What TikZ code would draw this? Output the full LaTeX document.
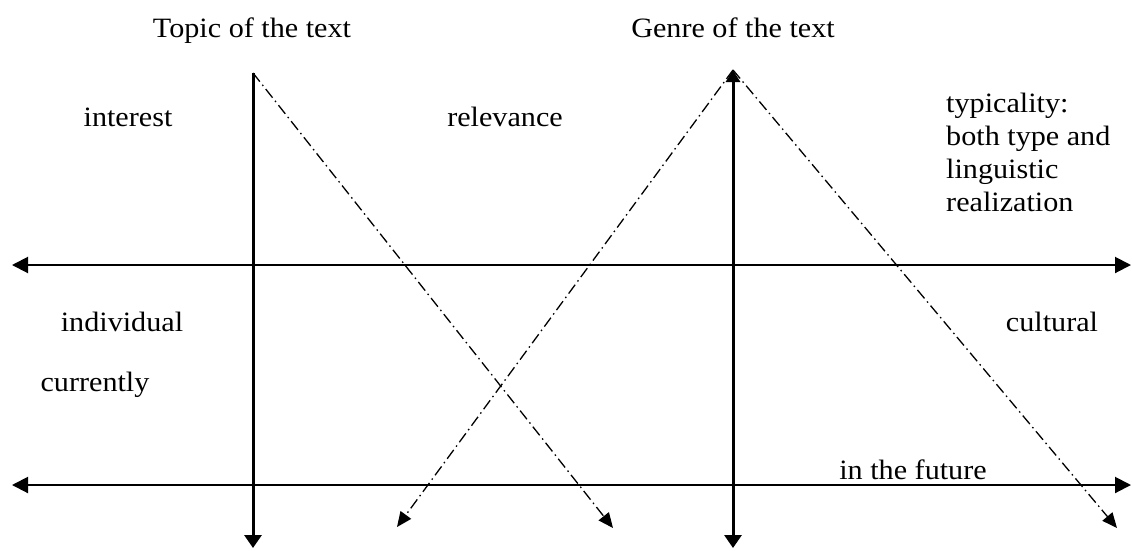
\documentclass[tikz,border=0pt]{standalone}
\usepackage{fontspec}
\setmainfont{Liberation Serif}[FakeStretch=1.077]
\usetikzlibrary{arrows.meta}
\begin{document}
\begin{tikzpicture}[x=1pt,y=-1pt,
  lbl/.style={font=\fontsize{28}{33}\selectfont, inner sep=0pt},
  axisline/.style={line width=2pt, {Triangle[length=16pt,width=16pt]}-{Triangle[length=16pt,width=16pt]}},
  vertline/.style={line width=3pt, -{Triangle[length=13pt,width=17pt]}},
  ddline/.style={line width=1.3pt, dash pattern=on 11pt off 4pt on 1.5pt off 4pt, -{Triangle[length=15pt,width=13pt]}}]
\useasboundingbox (0,0) rectangle (1132,550);
% coordinates
\coordinate (t1top) at (253,73);
\coordinate (t1bot) at (253,548);
\coordinate (t2top) at (733,70);
\coordinate (t2bot) at (733,548);
\coordinate (h1l) at (12,265);
\coordinate (h1r) at (1131,265);
\coordinate (h2l) at (12,485);
\coordinate (h2r) at (1131,485);
\coordinate (d1end) at (613,528);
\coordinate (d2end) at (397,527);
\coordinate (d3end) at (1117,528);
% dash-dot lines
\draw[ddline] (t1top) -- (d1end);
\draw[ddline] (t2top) -- (d2end);
\draw[ddline] (t2top) -- (d3end);
% axes
\draw[axisline] (h1l) -- (h1r);
\draw[axisline] (h2l) -- (h2r);
\draw[vertline] (t1top) -- (t1bot);
\draw[line width=3pt, {Triangle[length=12pt,width=14pt]}-{Triangle[length=13pt,width=17pt]}] (t2top) -- (t2bot);
% labels
\node[lbl, anchor=base] (topic) at (252,37) {Topic of the text};
\node[lbl, anchor=base] (genre) at (733,37) {Genre of the text};
\node[lbl, anchor=base west, align=left] (typ) at (946,211) {typicality:\\both type and\\linguistic\\realization};
\node[lbl] (interest) at (128,117) {interest};
\node[lbl] (relevance) at (505,117) {relevance};
\node[lbl] (individual) at (122,322) {individual};
\node[lbl] (cultural) at (1052,322) {cultural};
\node[lbl] (currently) at (95,385) {currently};
\node[lbl] (future) at (913,470) {in the future};
\end{tikzpicture}
\end{document}
